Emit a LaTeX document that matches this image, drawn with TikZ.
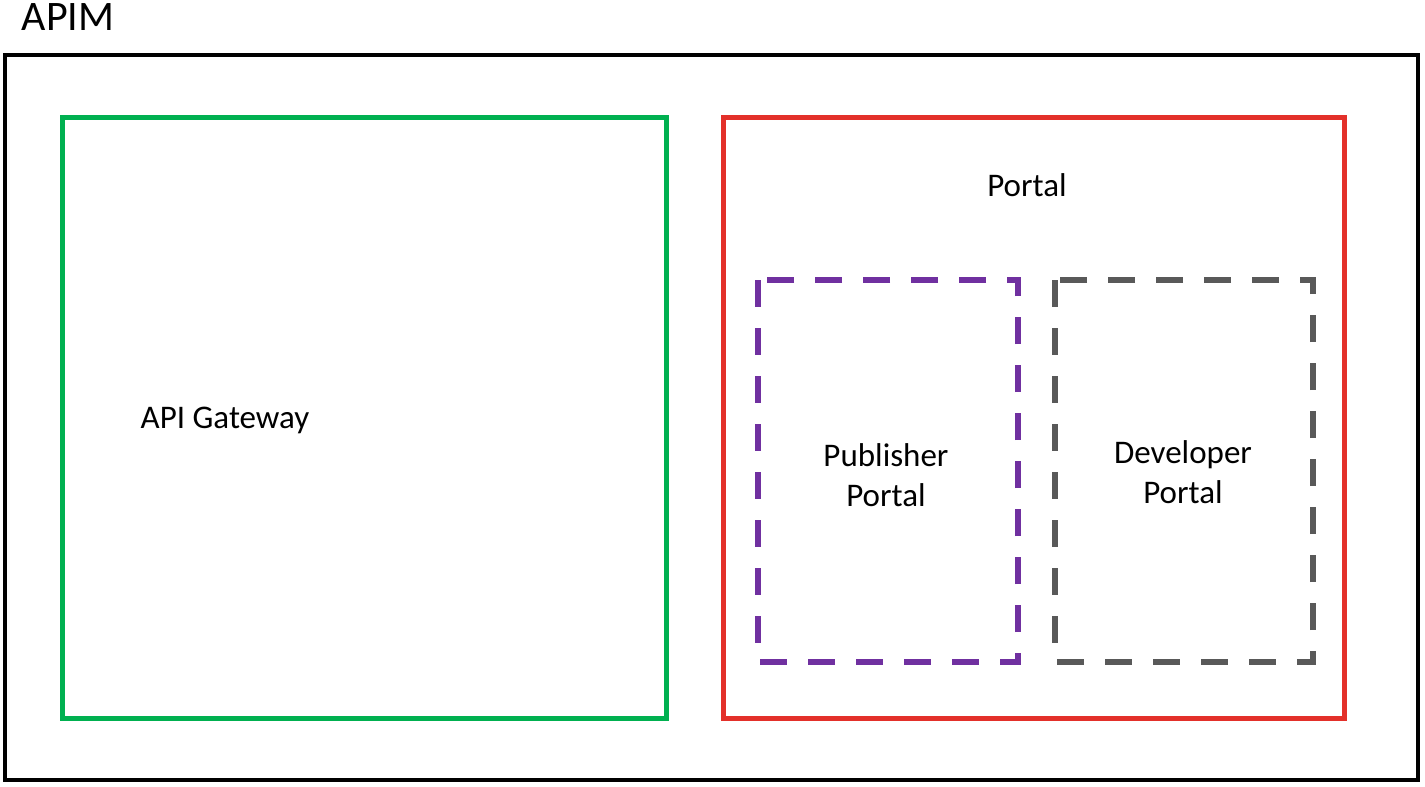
\documentclass[tikz,border=0pt]{standalone}
\usepackage{fontspec}
\setmainfont{Carlito}
\definecolor{gwgreen}{HTML}{00B050}
\definecolor{ptred}{HTML}{E3302A}
\definecolor{pubpurple}{HTML}{7030A0}
\definecolor{devgrey}{HTML}{595959}
\begin{document}
\begin{tikzpicture}[x=0.5pt,y=-0.5pt,
  box/.style={line width=2pt},
  dbox/.style={line width=3pt, dash pattern=on 13.5pt off 10.5pt},
  lbl/.style={font=\fontsize{16.5}{20}\selectfont, align=center, inner sep=0pt}]
\useasboundingbox (0,0) rectangle (1425,787);
\fill[white] (0,0) rectangle (1425,787);
\node[font=\fontsize{21}{25}\selectfont, inner sep=0pt] (title) at (68,17) {APIM};
\draw[box, black] (5,55) rectangle (1418,780);
\draw[box, line width=2.5pt, gwgreen] (62,117) rectangle (666,718);
\draw[box, line width=2.5pt, ptred] (723,117) rectangle (1344,718);
\draw[dbox, pubpurple] (758,280) rectangle (1018,662);
\draw[dbox, devgrey] (1055,280) rectangle (1313,662);
\node[lbl] (gw) at (225,420) {API Gateway};
\node[lbl] (portal) at (1027,185) {Portal};
\node[lbl] (pub) at (886,475) {Publisher\\Portal};
\node[lbl] (dev) at (1183,472) {Developer\\Portal};
\end{tikzpicture}
\end{document}
